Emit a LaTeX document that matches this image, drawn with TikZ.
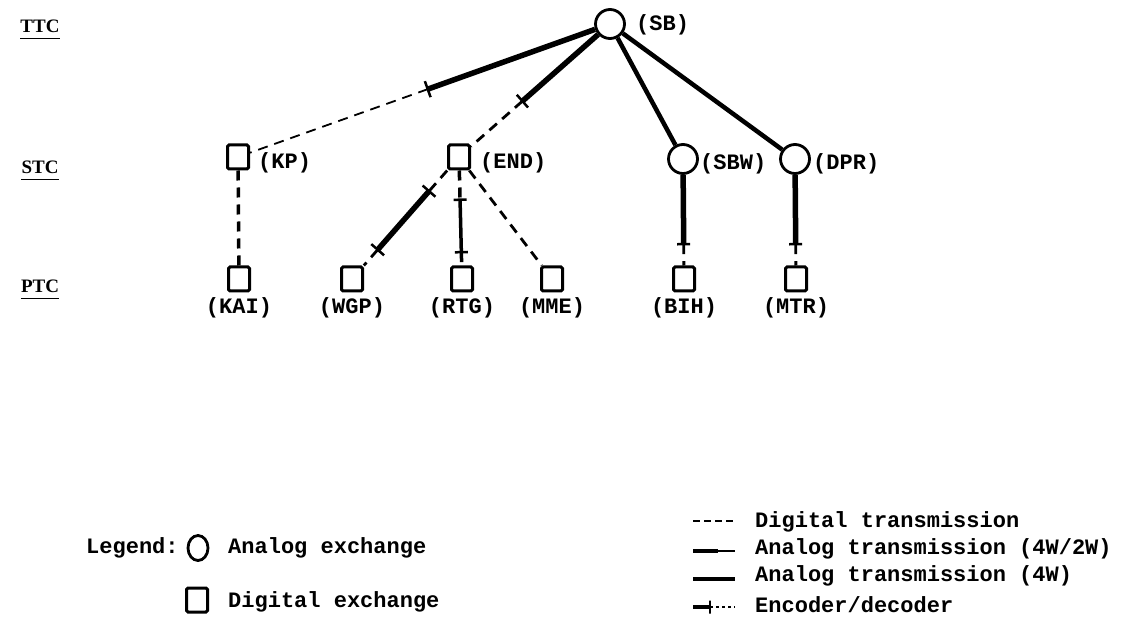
\documentclass[tikz,border=0pt]{standalone}
\usepackage{fontspec}
\setmainfont{Liberation Serif}
\newfontfamily\monof{Liberation Mono}
\usetikzlibrary{calc,shapes.geometric}
\begin{document}
\begin{tikzpicture}[x=1pt,y=-1pt,
  anx/.style={circle,draw,line width=2.8pt,minimum size=29pt,inner sep=0pt},
  dgx/.style={rectangle,draw,line width=3pt,minimum width=21pt,minimum height=24pt,inner sep=0pt,rounded corners=1.5pt},
  lbl/.style={font=\monof\bfseries\fontsize{22}{24}\selectfont,inner sep=0pt},
  lvl/.style={font=\bfseries\fontsize{19}{22}\selectfont,inner sep=0pt},
  dline/.style={line width=2.8pt,dash pattern=on 10pt off 7pt},
  aline/.style={line width=5.5pt},
  tk/.style={sloped,draw,line width=2.5pt,minimum height=17pt,minimum width=0pt,inner sep=0pt,shape=rectangle}
]
\useasboundingbox (0,0) rectangle (1127,617);
\fill[white] (0,0) rectangle (1127,617);

% level labels
\node[lvl] (TTC) at (40,26) {TTC};
\node[lvl] (STC) at (40,167) {STC};
\node[lvl] (PTC) at (40,286) {PTC};
\foreach \n in {TTC,STC,PTC}
  \draw[line width=1.8pt] ([yshift=-6pt]\n.south west) -- ([yshift=-6pt]\n.south east);

% exchanges
\node[anx] (SB) at (610,24) {};
\node[lbl,anchor=west] (lSB) at (636,25) {(SB)};
\node[dgx] (KP) at (238,157) {};
\node[lbl,anchor=west] (lKP) at (258,163) {(KP)};
\node[dgx] (END) at (459,157) {};
\node[lbl,anchor=west] (lEND) at (480,163) {(END)};
\node[anx] (SBW) at (683,159) {};
\node[lbl,anchor=west] (lSBW) at (700,164) {(SBW)};
\node[anx] (DPR) at (795,159) {};
\node[lbl,anchor=west] (lDPR) at (813,164) {(DPR)};

\foreach \n/\x in {KAI/239,WGP/352,RTG/462,MME/552,BIH/684,MTR/796}{
  \node[dgx] (\n) at (\x,279) {};
  \node[lbl] (l\n) at (\x,308) {(\n)};
}

% SB -> KP
\coordinate (t1) at ($(SB)!0.49!(KP)$);
\draw[aline] (SB) -- (t1);
\draw[dline,line width=1.8pt] (t1) -- (KP);
\path (SB) -- (t1) node[pos=1,tk]{};
% SB -> END
\coordinate (t2) at ($(SB)!0.58!(END)$);
\draw[aline] (SB) -- (t2);
\draw[dline] (t2) -- (END);
\path (SB) -- (t2) node[pos=1,tk]{};
% SB -> SBW, DPR
\draw[aline,line width=4.5pt] (SB) -- (SBW);
\draw[aline,line width=4.5pt] (SB) -- (DPR);

% KP -> KAI
\draw[dline,line width=3.5pt] (KP) -- (KAI);
% END -> WGP
\coordinate (w1) at ($(END)!0.28!(WGP)$);
\coordinate (w2) at ($(END)!0.76!(WGP)$);
\draw[dline] (END) -- (w1);
\draw[aline] (w1) -- (w2);
\draw[dline] (w2) -- (WGP);
\path (w1) -- (w2) node[pos=0,tk]{} node[pos=1,tk]{};
% END -> RTG
\coordinate (r1) at ($(END)!0.35!(RTG)$);
\coordinate (r2) at ($(END)!0.78!(RTG)$);
\draw[dline,line width=3.5pt] (END) -- (r1);
\draw[line width=3.5pt] (r1) -- (r2);
\draw[dline,line width=3.5pt] (r2) -- (RTG);
\path (r1) -- (r2) node[pos=0,tk,minimum height=13pt]{} node[pos=1,tk,minimum height=13pt]{};
% END -> MME
\draw[dline] (END) -- (MME);
% SBW -> BIH, DPR -> MTR
\coordinate (b1) at ($(SBW)!0.71!(BIH)$);
\draw[aline] (SBW) -- (b1);
\draw[dline,line width=2.8pt] (b1) -- (BIH);
\path (SBW) -- (b1) node[pos=1,tk,minimum height=13pt]{};
\coordinate (m1) at ($(DPR)!0.71!(MTR)$);
\draw[aline] (DPR) -- (m1);
\draw[dline,line width=2.8pt] (m1) -- (MTR);
\path (DPR) -- (m1) node[pos=1,tk,minimum height=13pt]{};

% legend
\node[lbl,anchor=west] (lg) at (86,548) {Legend:};
\node[ellipse,draw,line width=2.8pt,minimum width=20pt,minimum height=25pt,inner sep=0pt] (la) at (198,548) {};
\node[lbl,anchor=west] (lat) at (228,548) {Analog exchange};
\node[dgx] (ld) at (197,600) {};
\node[lbl,anchor=west] (ldt) at (228,602) {Digital exchange};

\coordinate (g1a) at (693,521); \coordinate (g1b) at (735,521);
\draw[line width=1.6pt,dash pattern=on 7pt off 4pt] (g1a) -- (g1b);
\node[lbl,anchor=west] (g1) at (755,522) {Digital transmission};
\coordinate (g2a) at (693,551); \coordinate (g2m) at (718,551); \coordinate (g2b) at (735,551);
\draw[line width=4.5pt] (g2a) -- (g2m);
\draw[line width=1.6pt] (g2m) -- (g2b);
\node[lbl,anchor=west] (g2) at (755,549) {Analog transmission (4W/2W)};
\coordinate (g3a) at (693,579); \coordinate (g3b) at (735,579);
\draw[line width=4.5pt] (g3a) -- (g3b);
\node[lbl,anchor=west] (g3) at (755,576) {Analog transmission (4W)};
\coordinate (g4a) at (693,607); \coordinate (g4m) at (710,607); \coordinate (g4b) at (735,607);
\draw[line width=4.5pt] (g4a) -- (g4m);
\draw[line width=2pt,dash pattern=on 3pt off 3pt] (g4m) -- (g4b);
\path (g4a) -- (g4m) node[pos=1,tk,minimum height=13pt]{};
\node[lbl,anchor=west] (g4) at (755,605) {Encoder/decoder};
\end{tikzpicture}
\end{document}
